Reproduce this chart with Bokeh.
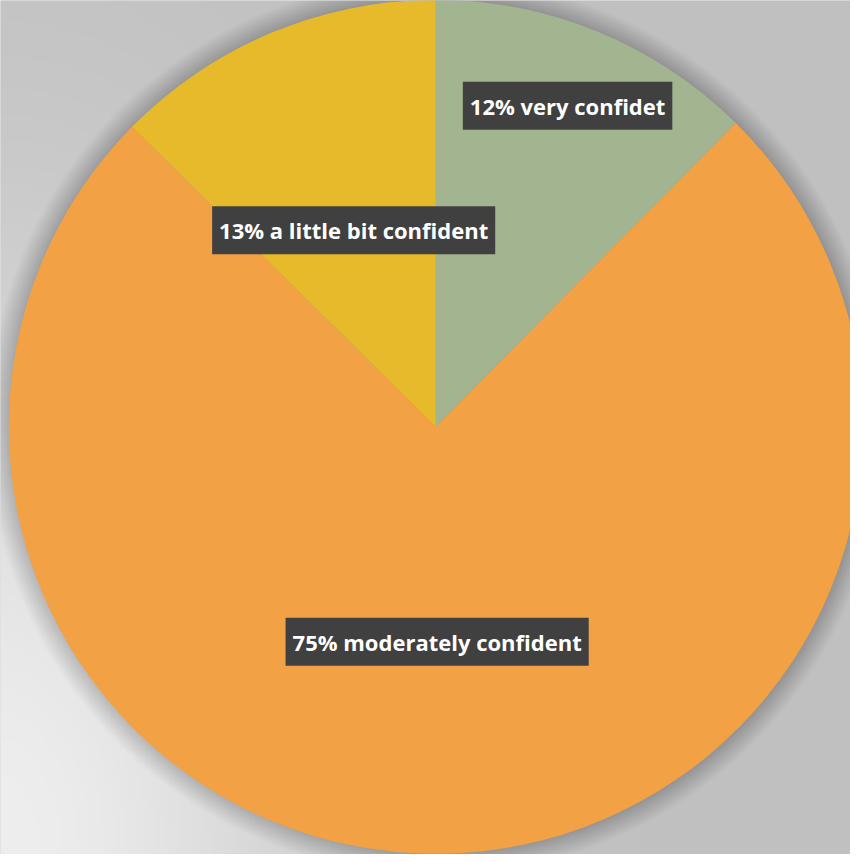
import math
import numpy as np
from bokeh.plotting import figure
from bokeh.models import Range1d, Label
from bokeh.embed import file_html
from bokeh.resources import INLINE

# ---- data ----
categories = ["very confidet", "moderately confident", "a little bit confident"]
shares = [12.4, 75.0, 12.6]
pct_labels = ["12%", "75%", "13%"]
colors = ["#A3B590", "#F2A144", "#E6BA2A"]

# ---- layout / style ----
W, H = 850, 854
CX, CY, R = 435.3, 427.7, 427.0
label_r = [347.0, 215.0, 213.0]
FONT = "Open Sans"
FSIZE = "22px"

p = figure(width=W, height=H, output_backend="svg", toolbar_location=None,
           x_range=Range1d(0, W), y_range=Range1d(0, H), min_border=0)
p.axis.visible = False
p.grid.visible = False
p.outline_line_color = None
p.background_fill_color = "#C0C0C0"
p.border_fill_color = "#C0C0C0"

# background gradient (light at bottom-left)
nx, ny = 170, 171
xs = (np.arange(nx) + 0.5) / nx * W
ys = (np.arange(ny) + 0.5) / ny * H
X, Y = np.meshgrid(xs, ys)
sx = X + 8
v = 192 + 46 * np.exp(-(sx / 330.0) ** 2 - (Y / 560.0) ** 2)
img = np.empty((ny, nx), dtype=np.uint32)
view = img.view(dtype=np.uint8).reshape((ny, nx, 4))
g = v.astype(np.uint8)
view[:, :, 0] = g
view[:, :, 1] = g
view[:, :, 2] = g
view[:, :, 3] = 255
p.image_rgba(image=[img], x=0, y=0, dw=W, dh=H)

# soft shadow around the pie
for i in range(22, 0, -1):
    p.circle(x=[CX], y=[CY], radius=R + i, radius_units="screen",
             fill_color="black", fill_alpha=0.007, line_color=None)

# pie wedges
total = sum(shares)
start = math.pi / 2
mids = []
for val, col in zip(shares, colors):
    sweep = val / total * 2 * math.pi
    end = start - sweep
    p.wedge(x=CX, y=CY, radius=R, radius_units="screen",
            start_angle=end, end_angle=start,
            fill_color=col, line_color=None)
    mids.append((start + end) / 2)
    start = end

# labels
for name, pct, ang, rr in zip(categories, pct_labels, mids, label_r):
    lx = CX + rr * math.cos(ang)
    ly = CY + rr * math.sin(ang)
    txt = f"{pct} {name}"
    for dx, dy, a in [(6, -7, 0.08), (5, -5, 0.12), (3, -4, 0.2)]:
        p.add_layout(Label(x=lx, y=ly, text=txt, x_offset=dx, y_offset=dy,
                           text_font=FONT, text_font_size=FSIZE,
                           text_font_style="bold", text_alpha=0.0,
                           text_align="center", text_baseline="middle",
                           background_fill_color="black", background_fill_alpha=a,
                           padding=(7, 9)))
    p.add_layout(Label(x=lx, y=ly, text=txt,
                       text_font=FONT, text_font_size=FSIZE,
                       text_font_style="bold", text_color="white",
                       text_align="center", text_baseline="middle",
                       background_fill_color="#404040", background_fill_alpha=1.0,
                       padding=(7, 9)))

open("out.html", "w").write(file_html(p, INLINE))
